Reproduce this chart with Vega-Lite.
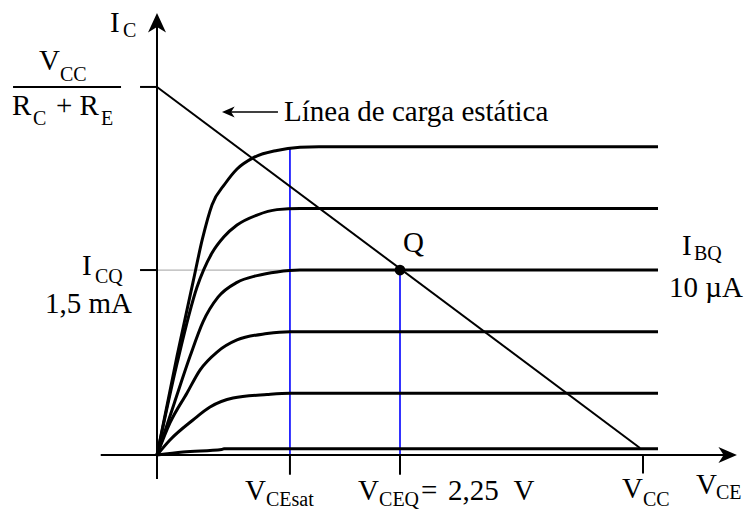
{
  "$schema": "https://vega.github.io/schema/vega-lite/v6.json",
  "width": 747,
  "height": 511,
  "autosize": "none",
  "padding": 0,
  "background": "white",
  "config": {"view": {"stroke": null}},
  "datasets": {
    "curves": [
      {"ib": "1", "v": 0, "i": 0}, {"ib": "1", "v": 0.241, "i": 0.025}, {"ib": "1", "v": 0.6, "i": 0.045}, {"ib": "1", "v": 0.62, "i": 0.05}, {"ib": "1", "v": 4.639, "i": 0.05},
      {"ib": "2", "v": 0, "i": 0}, {"ib": "2", "v": 0.12, "i": 0.122}, {"ib": "2", "v": 0.333, "i": 0.284}, {"ib": "2", "v": 0.491, "i": 0.389}, {"ib": "2", "v": 0.704, "i": 0.462}, {"ib": "2", "v": 1.019, "i": 0.49}, {"ib": "2", "v": 1.231, "i": 0.5}, {"ib": "2", "v": 4.639, "i": 0.5},
      {"ib": "3", "v": 0, "i": 0}, {"ib": "3", "v": 0.12, "i": 0.26}, {"ib": "3", "v": 0.278, "i": 0.503}, {"ib": "3", "v": 0.398, "i": 0.689}, {"ib": "3", "v": 0.556, "i": 0.835}, {"ib": "3", "v": 0.741, "i": 0.933}, {"ib": "3", "v": 1.019, "i": 0.985}, {"ib": "3", "v": 1.231, "i": 1.0}, {"ib": "3", "v": 4.639, "i": 1.0},
      {"ib": "4", "v": 0, "i": 0}, {"ib": "4", "v": 0.16, "i": 0.42}, {"ib": "4", "v": 0.306, "i": 0.8}, {"ib": "4", "v": 0.426, "i": 1.08}, {"ib": "4", "v": 0.565, "i": 1.28}, {"ib": "4", "v": 0.741, "i": 1.4}, {"ib": "4", "v": 0.926, "i": 1.455}, {"ib": "4", "v": 1.111, "i": 1.485}, {"ib": "4", "v": 1.324, "i": 1.5}, {"ib": "4", "v": 4.639, "i": 1.5},
      {"ib": "5", "v": 0, "i": 0}, {"ib": "5", "v": 0.185, "i": 0.74}, {"ib": "5", "v": 0.37, "i": 1.36}, {"ib": "5", "v": 0.509, "i": 1.638}, {"ib": "5", "v": 0.62, "i": 1.77}, {"ib": "5", "v": 0.741, "i": 1.865}, {"ib": "5", "v": 0.926, "i": 1.946}, {"ib": "5", "v": 1.111, "i": 1.99}, {"ib": "5", "v": 1.324, "i": 2.0}, {"ib": "5", "v": 4.639, "i": 2.0},
      {"ib": "6", "v": 0, "i": 0}, {"ib": "6", "v": 0.185, "i": 0.8}, {"ib": "6", "v": 0.333, "i": 1.4}, {"ib": "6", "v": 0.42, "i": 1.75}, {"ib": "6", "v": 0.51, "i": 2.03}, {"ib": "6", "v": 0.63, "i": 2.2}, {"ib": "6", "v": 0.741, "i": 2.32}, {"ib": "6", "v": 0.889, "i": 2.41}, {"ib": "6", "v": 1.111, "i": 2.47}, {"ib": "6", "v": 1.324, "i": 2.495}, {"ib": "6", "v": 1.5, "i": 2.5}, {"ib": "6", "v": 4.639, "i": 2.5}
    ],
    "loadLine": [
      {"v": 0, "i": 2.985},
      {"v": 4.472, "i": 0.057}
    ],
    "axisLines": [
      {"v": -0.521, "i": 0, "v2": 5.3, "i2": 0},
      {"v": 0, "i": -0.195, "v2": 0, "i2": 3.5},
      {"v": 1.231, "i": 0, "v2": 1.231, "i2": -0.16},
      {"v": 2.25, "i": 0, "v2": 2.25, "i2": -0.16},
      {"v": 4.5, "i": 0, "v2": 4.5, "i2": -0.15},
      {"v": -0.157, "i": 2.985, "v2": 0, "i2": 2.985},
      {"v": -0.157, "i": 1.5, "v2": 0, "i2": 1.5},
      {"v": -1.333, "i": 2.985, "v2": -0.333, "i2": 2.985}
    ],
    "guides": [
      {"v": 1.231, "i": 0, "v2": 1.231, "i2": 2.49},
      {"v": 2.25, "i": 0, "v2": 2.25, "i2": 1.5}
    ],
    "icq": [
      {"v": 0, "i": 1.5, "v2": 2.25, "i2": 1.5}
    ],
    "pointer": [
      {"v": 0.65, "i": 2.782, "v2": 1.12, "i2": 2.782}
    ],
    "qPoint": [
      {"v": 2.25, "i": 1.5}
    ],
    "yArrow": [{"v": 0, "i": 3.504}],
    "xArrow": [{"v": 5.282, "i": 0}],
    "pointerHead": [{"v": 0.662, "i": 2.782}],
    "labels": [
      {"text": "I", "v": -0.435, "i": 3.431},
      {"text": "V", "v": -1.093, "i": 3.122},
      {"text": "R", "v": -1.343, "i": 2.758},
      {"text": "+ R", "v": -0.935, "i": 2.758},
      {"text": "I", "v": -0.694, "i": 1.46},
      {"text": "1,5 mA", "v": -1.037, "i": 1.152},
      {"text": "Línea de carga estática", "v": 1.176, "i": 2.709},
      {"text": "Q", "v": 2.278, "i": 1.646},
      {"text": "I", "v": 4.861, "i": 1.622},
      {"text": "10 µA", "v": 4.741, "i": 1.281},
      {"text": "V", "v": 0.815, "i": -0.365},
      {"text": "V", "v": 1.861, "i": -0.365},
      {"text": "=", "v": 2.444, "i": -0.365},
      {"text": "2,25", "v": 2.694, "i": -0.365},
      {"text": "V", "v": 3.3, "i": -0.365},
      {"text": "V", "v": 4.306, "i": -0.349},
      {"text": "V", "v": 4.991, "i": -0.316}
    ],
    "subscripts": [
      {"text": "C", "v": -0.315, "i": 3.39},
      {"text": "CC", "v": -0.898, "i": 3.033},
      {"text": "C", "v": -1.148, "i": 2.676},
      {"text": "E", "v": -0.519, "i": 2.676},
      {"text": "CQ", "v": -0.574, "i": 1.395},
      {"text": "BQ", "v": 4.972, "i": 1.582},
      {"text": "CEsat", "v": 1.009, "i": -0.414},
      {"text": "CEQ", "v": 2.056, "i": -0.414},
      {"text": "CC", "v": 4.5, "i": -0.414},
      {"text": "CE", "v": 5.176, "i": -0.357}
    ]
  },
  "layer": [
    {
      "data": {"name": "icq"},
      "mark": {"type": "rule", "stroke": "#b4b4b4", "strokeWidth": 1.2},
      "encoding": {
        "x": {"field": "v", "type": "quantitative", "axis": null, "scale": {"domain": [-1.4537, 5.463], "nice": false, "zero": false}},
        "y": {"field": "i", "type": "quantitative", "axis": null, "scale": {"domain": [-0.4542, 3.6902], "nice": false, "zero": false}},
        "x2": {"field": "v2"},
        "y2": {"field": "i2"}
      }
    },
    {
      "data": {"name": "guides"},
      "mark": {"type": "rule", "stroke": "#0000ff", "strokeWidth": 1.6},
      "encoding": {
        "x": {"field": "v", "type": "quantitative", "axis": null},
        "y": {"field": "i", "type": "quantitative", "axis": null},
        "x2": {"field": "v2"},
        "y2": {"field": "i2"}
      }
    },
    {
      "data": {"name": "axisLines"},
      "mark": {"type": "rule", "stroke": "black", "strokeWidth": 2},
      "encoding": {
        "x": {"field": "v", "type": "quantitative", "axis": null},
        "y": {"field": "i", "type": "quantitative", "axis": null},
        "x2": {"field": "v2"},
        "y2": {"field": "i2"}
      }
    },
    {
      "data": {"name": "curves"},
      "mark": {"type": "line", "stroke": "black", "strokeWidth": 3, "interpolate": "monotone", "strokeJoin": "round", "strokeCap": "butt"},
      "encoding": {
        "x": {"field": "v", "type": "quantitative", "axis": null},
        "y": {"field": "i", "type": "quantitative", "axis": null},
        "detail": {"field": "ib"},
        "order": {"field": "v", "type": "quantitative"}
      }
    },
    {
      "data": {"name": "loadLine"},
      "mark": {"type": "line", "stroke": "black", "strokeWidth": 2},
      "encoding": {
        "x": {"field": "v", "type": "quantitative", "axis": null},
        "y": {"field": "i", "type": "quantitative", "axis": null}
      }
    },
    {
      "data": {"name": "pointer"},
      "mark": {"type": "rule", "stroke": "black", "strokeWidth": 1.5},
      "encoding": {
        "x": {"field": "v", "type": "quantitative", "axis": null},
        "y": {"field": "i", "type": "quantitative", "axis": null},
        "x2": {"field": "v2"},
        "y2": {"field": "i2"}
      }
    },
    {
      "data": {"name": "yArrow"},
      "mark": {"type": "point", "shape": "M0,-1L0.9,0.95L0,0.4L-0.9,0.95Z", "filled": true, "color": "black", "size": 400, "opacity": 1},
      "encoding": {
        "x": {"field": "v", "type": "quantitative", "axis": null},
        "y": {"field": "i", "type": "quantitative", "axis": null}
      }
    },
    {
      "data": {"name": "xArrow"},
      "mark": {"type": "point", "shape": "M1,0L-0.95,0.85L-0.4,0L-0.95,-0.85Z", "filled": true, "color": "black", "size": 361, "opacity": 1},
      "encoding": {
        "x": {"field": "v", "type": "quantitative", "axis": null},
        "y": {"field": "i", "type": "quantitative", "axis": null}
      }
    },
    {
      "data": {"name": "pointerHead"},
      "mark": {"type": "point", "shape": "M-1,0L0.95,-0.85L0.4,0L0.95,0.85Z", "filled": true, "color": "black", "size": 169, "opacity": 1},
      "encoding": {
        "x": {"field": "v", "type": "quantitative", "axis": null},
        "y": {"field": "i", "type": "quantitative", "axis": null}
      }
    },
    {
      "data": {"name": "qPoint"},
      "mark": {"type": "circle", "color": "black", "size": 115, "opacity": 1},
      "encoding": {
        "x": {"field": "v", "type": "quantitative", "axis": null},
        "y": {"field": "i", "type": "quantitative", "axis": null}
      }
    },
    {
      "data": {"name": "labels"},
      "mark": {"type": "text", "font": "Liberation Serif", "fontSize": 29, "align": "left", "baseline": "alphabetic", "color": "black"},
      "encoding": {
        "x": {"field": "v", "type": "quantitative", "axis": null},
        "y": {"field": "i", "type": "quantitative", "axis": null},
        "text": {"field": "text"}
      }
    },
    {
      "data": {"name": "subscripts"},
      "mark": {"type": "text", "font": "Liberation Serif", "fontSize": 20, "align": "left", "baseline": "alphabetic", "color": "black"},
      "encoding": {
        "x": {"field": "v", "type": "quantitative", "axis": null},
        "y": {"field": "i", "type": "quantitative", "axis": null},
        "text": {"field": "text"}
      }
    }
  ]
}
